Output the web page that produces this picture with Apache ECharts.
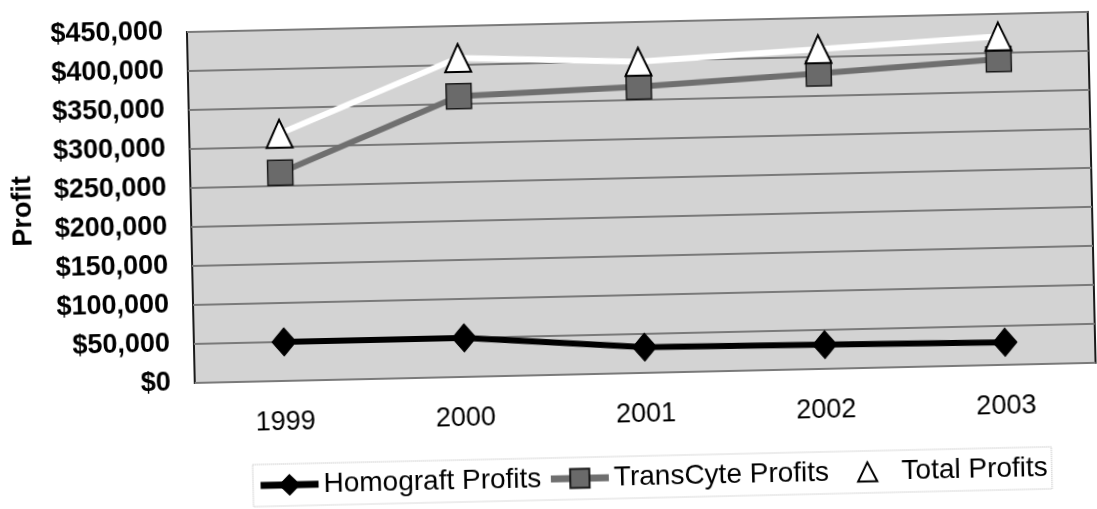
<!DOCTYPE html>
<html>
<head>
<meta charset="utf-8">
<script src="https://cdn.jsdelivr.net/npm/echarts@6/dist/echarts.min.js"></script>
<style>
  html, body { margin: 0; padding: 0; background: #fff; }
  #chart {
    width: 1097px;
    height: 509px;
    /* the original is a slightly tilted scan */
    transform: rotate(-1.28deg);
    transform-origin: 50% 50%;
  }
</style>
</head>
<body>
<div id="chart"></div>
<script>
// values
const years = ['1999', '2000', '2001', '2002', '2003']
const homograft = [50000, 50000, 33000, 31000, 29000]
const transcyte = [267000, 360000, 367000, 379000, 392000]
const total = [317000, 409000, 399000, 410000, 421000]

const yMax = 450000
const yStep = 50000

const money = v => '$' + String(v).replace(/\B(?=(\d{3})+(?!\d))/g, ',')

const chart = echarts.init(document.getElementById('chart'))

const option = {
  animation: false,
  textStyle: { fontFamily: 'Liberation Sans, Arial, sans-serif' },
  grid: {
    left: 192,
    right: 4,
    top: 24,
    bottom: 134,
    show: true,
    backgroundColor: '#d3d3d3',
    borderColor: '#1a1a1a',
    borderWidth: 2
  },
  legend: {
    left: 248,
    top: 458,
    itemWidth: 58,
    itemHeight: 24,
    itemGap: 6,
    padding: [7, 4, 7, 4],
    borderColor: '#b5b5b5',
    borderWidth: 1,
    borderType: 'dotted',
    lineStyle: { width: 7 },
    textStyle: { fontSize: 28, color: '#000', fontFamily: 'Liberation Sans, Arial, sans-serif' },
    data: ['Homograft Profits', 'TransCyte Profits', 'Total Profits']
  },
  xAxis: {
    type: 'category',
    data: years,
    boundaryGap: true,
    axisLine: { show: false },
    axisTick: { show: false },
    axisLabel: { fontSize: 27, color: '#000', margin: 28 }
  },
  yAxis: {
    type: 'value',
    min: 0,
    max: yMax,
    interval: yStep,
    name: 'Profit',
    nameLocation: 'middle',
    nameRotate: 90,
    nameGap: 154,
    nameTextStyle: { fontSize: 27, fontWeight: 'bold', color: '#000' },
    axisLine: { show: false },
    axisTick: { show: false },
    axisLabel: {
      fontSize: 27,
      fontWeight: 'bold',
      color: '#000',
      margin: 24,
      formatter: money
    },
    splitLine: { lineStyle: { color: '#7a7a7a', width: 2 } }
  },
  series: [
    {
      name: 'Homograft Profits',
      type: 'line',
      data: homograft,
      symbol: 'diamond',
      symbolSize: [24, 28],
      lineStyle: { color: '#000', width: 6 },
      itemStyle: { color: '#000', borderColor: '#000', borderWidth: 1 }
    },
    {
      name: 'TransCyte Profits',
      type: 'line',
      data: transcyte,
      symbol: 'rect',
      symbolSize: 25,
      lineStyle: { color: '#6f6f6f', width: 6 },
      itemStyle: { color: '#6a6a6a', borderColor: '#1a1a1a', borderWidth: 1.5 }
    },
    {
      name: 'Total Profits',
      type: 'line',
      data: total,
      symbol: 'triangle',
      symbolSize: [26, 28],
      lineStyle: { color: '#ffffff', width: 6 },
      itemStyle: { color: '#ffffff', borderColor: '#000', borderWidth: 2 }
    }
  ]
}

chart.setOption(option)
</script>
</body>
</html>
